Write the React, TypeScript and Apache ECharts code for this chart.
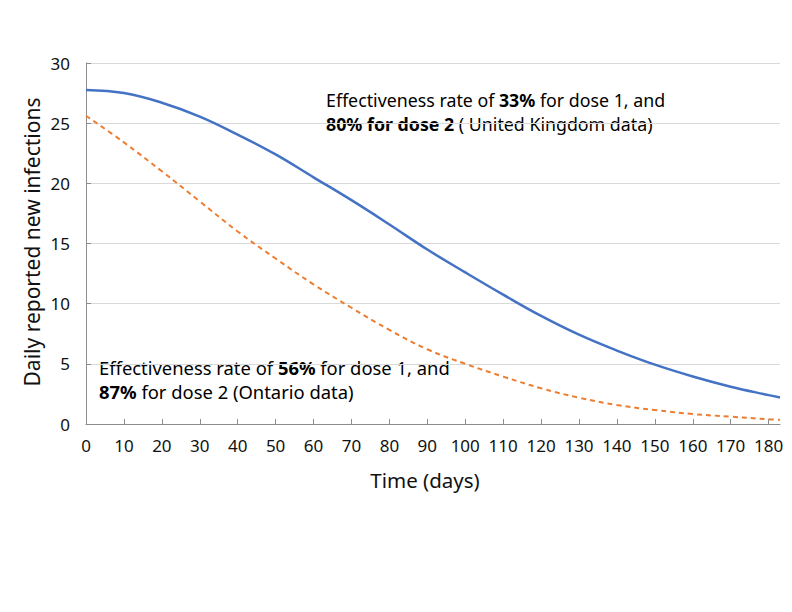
import React, { useEffect, useRef } from "react";
import * as echarts from "echarts";

const days = [0, 10, 20, 30, 40, 50, 60, 70, 80, 90, 100, 110, 120, 130, 140, 150, 160, 170, 180, 183];
const ukSeries = [27.76, 27.5, 26.7, 25.55, 24.05, 22.4, 20.5, 18.6, 16.58, 14.5, 12.6, 10.75, 8.98, 7.42, 6.1, 4.93, 3.95, 3.1, 2.4, 2.2];
const ontarioSeries = [25.62, 23.4, 21.0, 18.5, 16.0, 13.75, 11.6, 9.66, 7.82, 6.21, 5.0, 3.94, 2.97, 2.19, 1.58, 1.16, 0.83, 0.61, 0.39, 0.35];
const xTicks = [0, 10, 20, 30, 40, 50, 60, 70, 80, 90, 100, 110, 120, 130, 140, 150, 160, 170, 180];

const FONT = "Noto Sans";

export default function App() {
  const ref = useRef<HTMLDivElement>(null);
  useEffect(() => {
    if (!ref.current) return;
    const chart = echarts.init(ref.current, undefined, { renderer: "svg" });
    const ukData = days.map((d, i) => [d, ukSeries[i]]);
    const onData = days.map((d, i) => [d, ontarioSeries[i]]);
    const mkRich = (fs: number) => ({
      n: { fontFamily: FONT, fontSize: fs, color: "#111", lineHeight: 24 },
      b: { fontFamily: FONT, fontSize: fs, color: "#111", fontWeight: "bold", lineHeight: 24 },
    });
    chart.setOption({
      animation: false,
      backgroundColor: "#fff",
      grid: { left: 86, right: 12, top: 63, bottom: 188 },
      xAxis: {
        type: "value",
        min: 0,
        max: 183,
        interval: 10,
        axisLine: { show: true, lineStyle: { color: "#8c8c8c", width: 1 } },
        axisTick: { show: true, inside: true, length: 5, lineStyle: { color: "#8c8c8c" }, customValues: xTicks },
        axisLabel: { fontFamily: FONT, fontSize: 17, color: "#111", margin: 13, customValues: xTicks },
        splitLine: { show: false },
      },
      yAxis: {
        type: "value",
        min: 0,
        max: 30,
        interval: 5,
        axisLine: { show: true, lineStyle: { color: "#8c8c8c", width: 1 } },
        axisTick: { show: true, inside: true, length: 5, lineStyle: { color: "#8c8c8c" } },
        axisLabel: { fontFamily: FONT, fontSize: 17, color: "#111", margin: 16 },
        splitLine: { show: true, lineStyle: { color: "#d9d9d9", width: 1 } },
      },
      series: [
        {
          type: "line",
          name: "UK",
          data: ukData,
          smooth: 0.4,
          showSymbol: false,
          lineStyle: { color: "#4472C4", width: 2.5 },
          itemStyle: { color: "#4472C4" },
        },
        {
          type: "line",
          name: "Ontario",
          data: onData,
          smooth: 0.4,
          showSymbol: false,
          lineStyle: { color: "#ED7D31", width: 2, type: [5, 4] },
          itemStyle: { color: "#ED7D31" },
        },
      ],
      graphic: [
        {
          type: "text",
          left: 326,
          top: 91,
          style: {
            text: "{n|Effectiveness rate of }{b|33%}{n| for dose 1, and}\n{b|80% for dose 2}{n| ( United Kingdom data)}",
            rich: mkRich(17.8),
            fontFamily: FONT,
            fontSize: 17.8,
          },
        },
        {
          type: "text",
          left: 99,
          top: 358,
          style: {
            text: "{n|Effectiveness rate of }{b|56%}{n| for dose 1, and}\n{b|87%}{n| for dose 2 (Ontario data)}",
            rich: mkRich(18.4),
            fontFamily: FONT,
            fontSize: 18.4,
          },
        },
        {
          type: "text",
          x: 425,
          y: 480,
          style: {
            text: "Time (days)",
            fontFamily: FONT,
            fontSize: 20.5,
            fill: "#111",
            align: "center",
            verticalAlign: "middle",
          },
        },
        {
          type: "text",
          x: 32,
          y: 242,
          rotation: Math.PI / 2,
          style: {
            text: "Daily reported new infections",
            fontFamily: FONT,
            fontSize: 21,
            fill: "#111",
            align: "center",
            verticalAlign: "middle",
          },
        },
      ],
    });
    return () => chart.dispose();
  }, []);
  return <div ref={ref} style={{ width: 792, height: 612, position: "absolute", left: 0, top: 0 }} />;
}
